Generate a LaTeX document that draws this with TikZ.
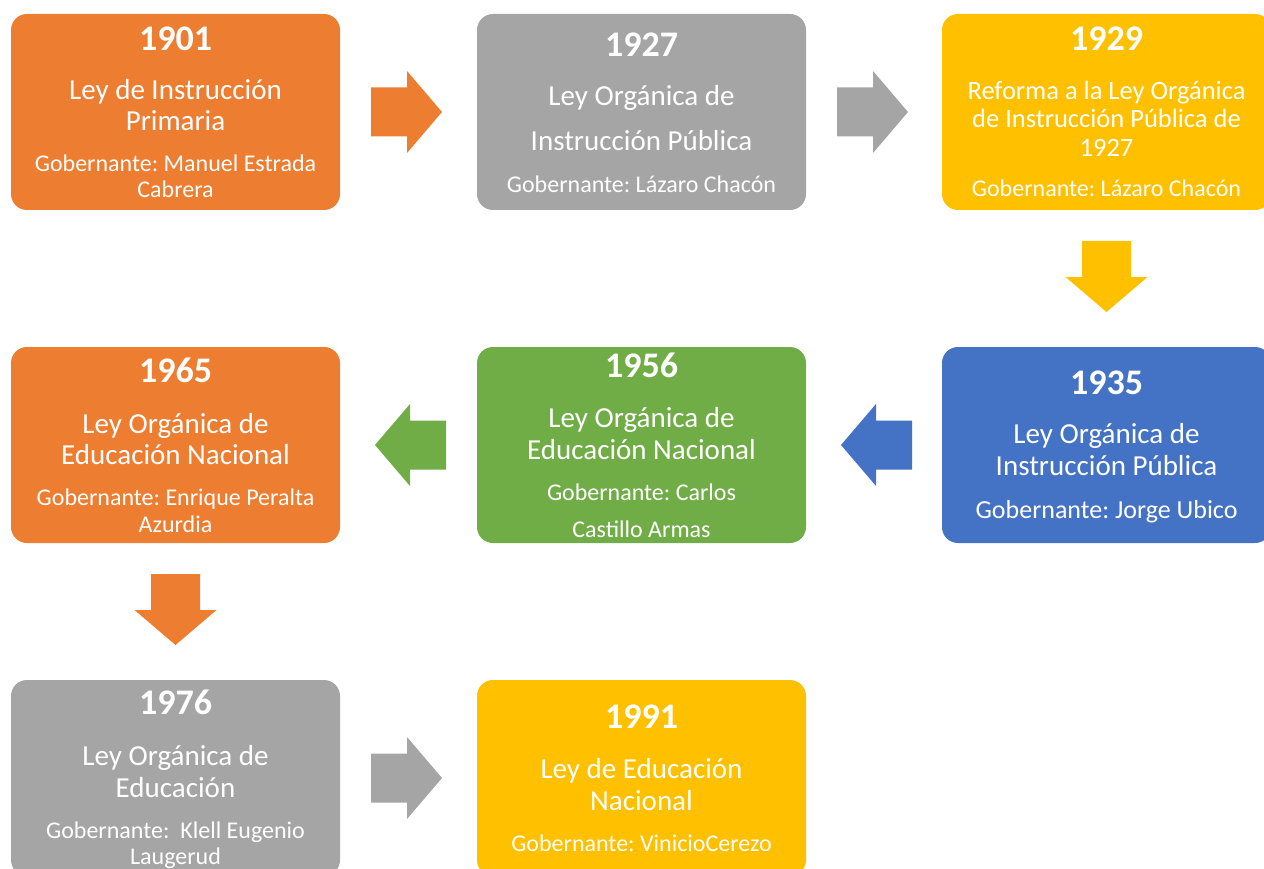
\documentclass[tikz,border=0pt]{standalone}
\usepackage{fontspec}
\setmainfont{Carlito}
\frenchspacing
\definecolor{cOrange}{HTML}{ED7D31}
\definecolor{cGray}{HTML}{A5A5A5}
\definecolor{cYellow}{HTML}{FFC000}
\definecolor{cBlue}{HTML}{4472C4}
\definecolor{cGreen}{HTML}{70AD47}
\tikzset{
  box/.style={rounded corners=16pt, minimum width=329pt, minimum height=196pt, inner sep=0pt, outer sep=0pt},
  yr/.style={font=\bfseries\fontsize{36}{40}\selectfont, text=white, anchor=base, inner sep=0pt},
  main/.style={font=\fontsize{29}{32}\selectfont, text=white, anchor=base, inner sep=0pt},
  mainsm/.style={font=\fontsize{26.5}{30}\selectfont, text=white, anchor=base, inner sep=0pt},
  gov/.style={font=\fontsize{24}{28}\selectfont, text=white, anchor=base, inner sep=0pt},
  govbig/.style={font=\fontsize{26}{30}\selectfont, text=white, anchor=base, inner sep=0pt},
  pics/blockarrow/.style={code={
    \fill[#1] (0,-24.5) -- (36,-24.5) -- (36,-41) -- (71,0) -- (36,41) -- (36,24.5) -- (0,24.5) -- cycle;
  }}
}
\begin{document}
\begin{tikzpicture}[x=1pt,y=-1pt]
\frenchspacing
\path[use as bounding box] (0,0) rectangle (1264,869);
\clip (0,0) rectangle (1264,869);

% Row 1
\node[box, fill=cOrange] (b1901) at (175.5,112) {};
\node[yr] (t1901) at (175.5,51) {1901};
\node[main] (m1901a) at (175.5,100) {Ley de Instrucción};
\node[main] (m1901b) at (175.5,131) {Primaria};
\node[gov] (g1901a) at (175.5,172) {Gobernante: Manuel Estrada};
\node[gov] (g1901b) at (175.5,198) {Cabrera};

\node[box, fill=cGray] (b1927) at (641.5,112) {};
\node[yr] (t1927) at (641.5,57) {1927};
\node[main] (m1927a) at (641.5,106) {Ley Orgánica de};
\node[main] (m1927b) at (641.5,151) {Instrucción Pública};
\node[gov] (g1927) at (641.5,193) {Gobernante: Lázaro Chacón};

\node[box, fill=cYellow] (b1929) at (1106.5,112) {};
\node[yr] (t1929) at (1106.5,51) {1929};
\node[mainsm] (m1929a) at (1106.5,100) {Reforma a la Ley Orgánica};
\node[mainsm] (m1929b) at (1106.5,128) {de Instrucción Pública de};
\node[mainsm] (m1929c) at (1106.5,157) {1927};
\node[gov] (g1929) at (1106.5,197) {Gobernante: Lázaro Chacón};

% Row 2
\node[box, fill=cOrange] (b1965) at (175.5,445) {};
\node[yr] (t1965) at (175.5,382) {1965};
\node[main] (m1965a) at (175.5,433) {Ley Orgánica de};
\node[main] (m1965b) at (175.5,464) {Educación Nacional};
\node[gov] (g1965a) at (175.5,505) {Gobernante: Enrique Peralta};
\node[gov] (g1965b) at (175.5,532) {Azurdia};

\node[box, fill=cGreen] (b1956) at (641.5,445) {};
\node[yr] (t1956) at (641.5,377) {1956};
\node[main] (m1956a) at (641.5,427) {Ley Orgánica de};
\node[main] (m1956b) at (641.5,459) {Educación Nacional};
\node[gov] (g1956a) at (641.5,500) {Gobernante: Carlos};
\node[gov] (g1956b) at (641.5,537) {Castillo Armas};

\node[box, fill=cBlue] (b1935) at (1106.5,445) {};
\node[yr] (t1935) at (1106.5,394) {1935};
\node[main] (m1935a) at (1106.5,443) {Ley Orgánica de};
\node[main] (m1935b) at (1106.5,475) {Instrucción Pública};
\node[govbig] (g1935) at (1106.5,518) {Gobernante: Jorge Ubico};

% Row 3
\node[box, fill=cGray] (b1976) at (175.5,778) {};
\node[yr] (t1976) at (175.5,714) {1976};
\node[main] (m1976a) at (175.5,765) {Ley Orgánica de};
\node[main] (m1976b) at (175.5,797) {Educación};
\node[gov] (g1976a) at (175.5,838) {Gobernante:~ Klell Eugenio};
\node[gov] (g1976b) at (175.5,864) {Laugerud};

\node[box, fill=cYellow] (b1991) at (641.5,778) {};
\node[yr] (t1991) at (641.5,728) {1991};
\node[main] (m1991a) at (641.5,778) {Ley de Educación};
\node[main] (m1991b) at (641.5,810) {Nacional};
\node[gov] (g1991) at (641.5,851) {Gobernante: VinicioCerezo};

% Block arrows
\pic at (371,112) {blockarrow=cOrange};
\pic at (837,112) {blockarrow=cGray};
\pic[rotate=-90] at (1106.5,241) {blockarrow=cYellow};
\pic[rotate=180] at (912,445) {blockarrow=cBlue};
\pic[rotate=180] at (446,445) {blockarrow=cGreen};
\pic[rotate=-90] at (175.5,574) {blockarrow=cOrange};
\pic at (371,778) {blockarrow=cGray};
\end{tikzpicture}
\end{document}
